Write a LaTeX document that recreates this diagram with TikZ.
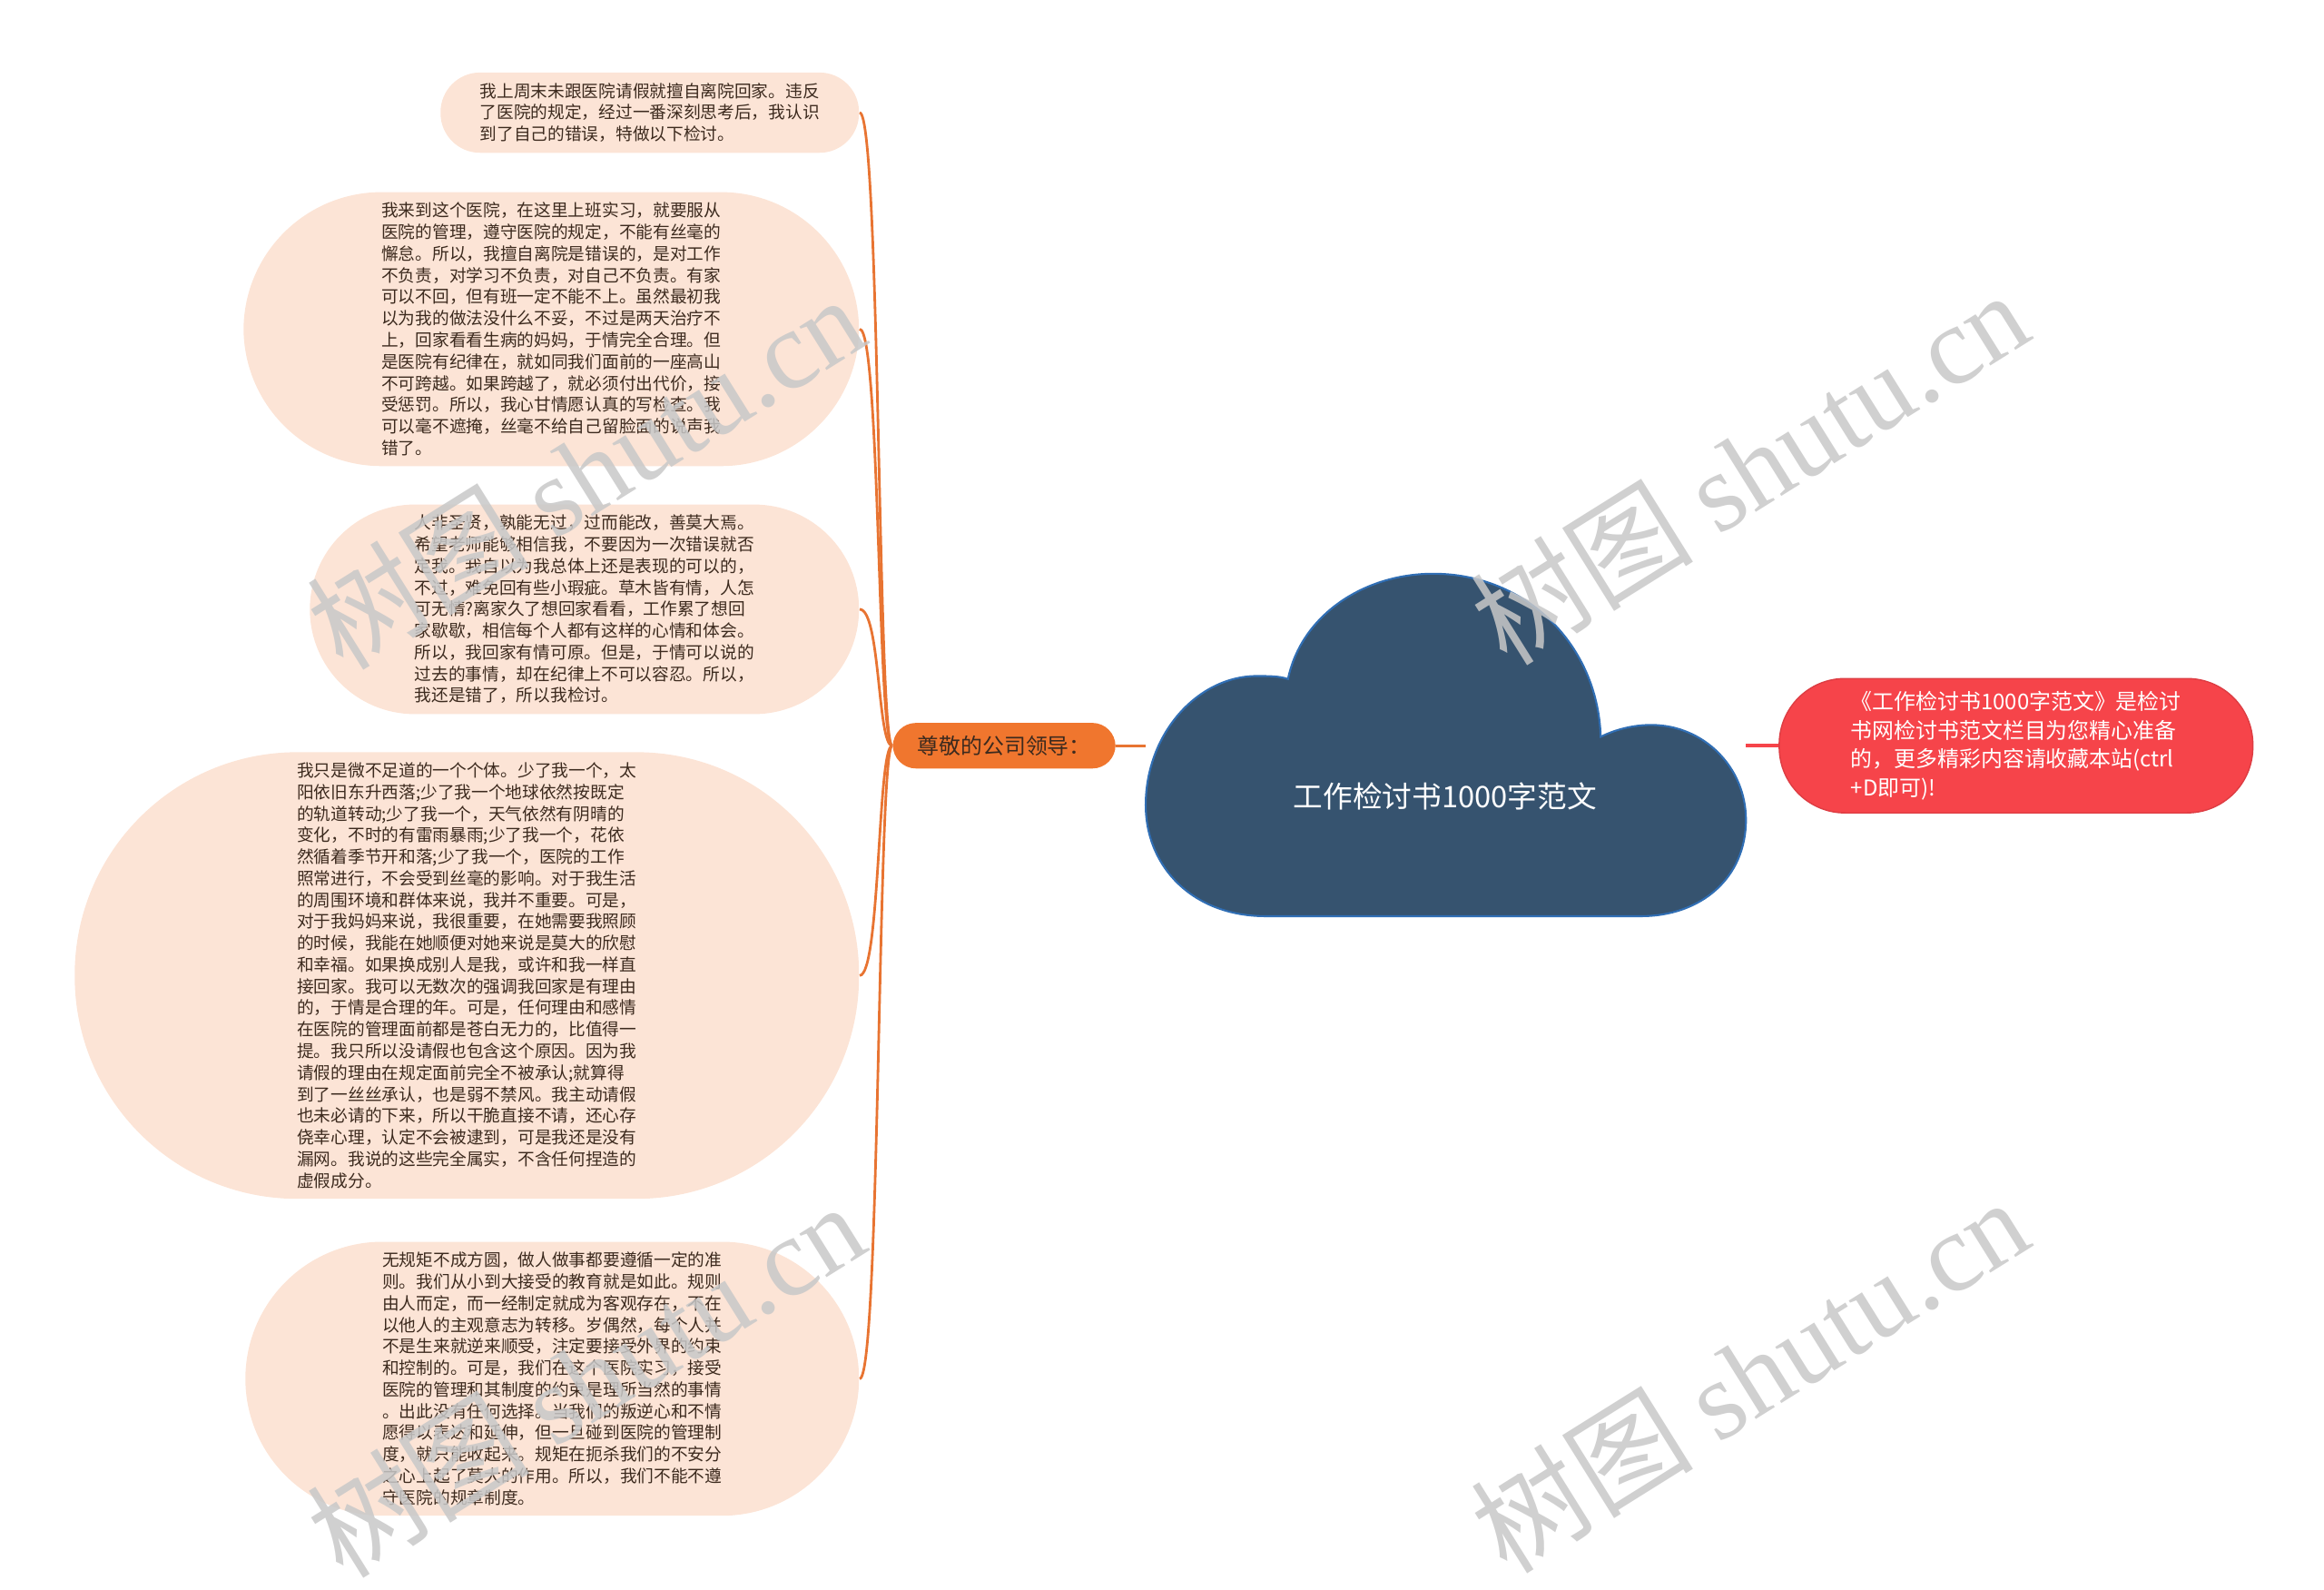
\documentclass[tikz,border=0pt]{standalone}
\usepackage{fontspec}
\setmainfont{Noto Sans CJK SC}
\newfontfamily\wmfont{Liberation Serif}
\usepackage{xcolor}
\usepackage{tikz}
\usetikzlibrary{positioning}

\definecolor{peach}{RGB}{252,228,214}
\definecolor{leadorange}{RGB}{240,118,46}
\definecolor{linkorange}{RGB}{232,116,50}
\definecolor{cloudblue}{RGB}{54,83,111}
\definecolor{cloudedge}{RGB}{48,110,180}
\definecolor{notered}{RGB}{246,68,74}
\definecolor{inkbrown}{RGB}{60,42,30}
\definecolor{wmgray}{RGB}{200,200,200}

\begin{document}
\begin{tikzpicture}[x=0.016327cm,y=-0.016327cm,
leaf/.style={rectangle,rounded corners=#1,inner xsep=#1,fill=peach,text=inkbrown,align=left,anchor=east,inner ysep=0.115cm,font=\fontsize{5.32pt}{6.76pt}\selectfont},
lead/.style={rectangle,rounded corners=0.255cm,fill=leadorange,text=inkbrown,anchor=west,inner xsep=0.27cm,inner ysep=0.14cm,font=\fontsize{6.8pt}{8pt}\selectfont},
note/.style={rectangle,rounded corners=0.725cm,fill=notered,draw=notered!90!black,line width=0.4pt,text=white,align=left,anchor=west,inner xsep=0.79cm,inner ysep=0.144cm,font=\fontsize{6.8pt}{8.94pt}\selectfont},
link/.style={linkorange,line width=0.8pt},
wm/.style={wmgray,opacity=0.85,rotate=32,font=\fontsize{35pt}{35pt}\selectfont}]
\useasboundingbox (0,0) rectangle (1568,1072);

% cloud
\filldraw[fill=cloudblue,draw=cloudedge,line width=0.6pt](854,618) .. controls (805,618) and (773,585) .. (773,543)
.. controls (773,495) and (808,456) .. (848,456)
.. controls (856,456) and (863,456) .. (869,458)
.. controls (878,415) and (920,387) .. (967,387)
.. controls (1030,387) and (1078,435) .. (1080,497)
.. controls (1090,492) and (1102,489) .. (1114,489)
.. controls (1150,489) and (1178,518) .. (1178,553)
.. controls (1178,592) and (1148,618) .. (1107,618)
-- cycle;
\node[text=white,font=\fontsize{9.3pt}{11pt}\selectfont] (root) at (975,537) {工作检讨书1000字范文};
\coordinate (rootW) at (773,503);
\coordinate (rootE) at (1178,503);

\node[lead] (lead) at (602,503) {尊敬的公司领导：};
\node[note] (note) at (1200,503) {《工作检讨书1000字范文》是检讨\\
书网检讨书范文栏目为您精心准备\\
的，更多精彩内容请收藏本站(ctrl\\
+D即可)!};

\node[leaf=0.435cm] (leave) at (580,76) {我上周末未跟医院请假就擅自离院回家。违反\\
了医院的规定，经过一番深刻思考后，我认识\\
到了自己的错误，特做以下检讨。};
\node[leaf=1.52cm] (duty) at (580,222) {我来到这个医院，在这里上班实习，就要服从\\
医院的管理，遵守医院的规定，不能有丝毫的\\
懈怠。所以，我擅自离院是错误的，是对工作\\
不负责，对学习不负责，对自己不负责。有家\\
可以不回，但有班一定不能不上。虽然最初我\\
以为我的做法没什么不妥，不过是两天治疗不\\
上，回家看看生病的妈妈，于情完全合理。但\\
是医院有纪律在，就如同我们面前的一座高山\\
不可跨越。如果跨越了，就必须付出代价，接\\
受惩罚。所以，我心甘情愿认真的写检查。我\\
可以毫不遮掩，丝毫不给自己留脸面的说声我\\
错了。};
\node[leaf=1.155cm] (excuse) at (580,411) {人非圣贤，孰能无过，过而能改，善莫大焉。\\
希望老师能够相信我，不要因为一次错误就否\\
定我。我自以为我总体上还是表现的可以的，\\
不过，难免回有些小瑕疵。草木皆有情，人怎\\
可无情?离家久了想回家看看，工作累了想回\\
家歇歇，相信每个人都有这样的心情和体会。\\
所以，我回家有情可原。但是，于情可以说的\\
过去的事情，却在纪律上不可以容忍。所以，\\
我还是错了，所以我检讨。};
\node[leaf=2.45cm] (minor) at (580,658) {我只是微不足道的一个个体。少了我一个，太\\
阳依旧东升西落;少了我一个地球依然按既定\\
的轨道转动;少了我一个，天气依然有阴晴的\\
变化，不时的有雷雨暴雨;少了我一个，花依\\
然循着季节开和落;少了我一个，医院的工作\\
照常进行，不会受到丝毫的影响。对于我生活\\
的周围环境和群体来说，我并不重要。可是，\\
对于我妈妈来说，我很重要，在她需要我照顾\\
的时候，我能在她顺便对她来说是莫大的欣慰\\
和幸福。如果换成别人是我，或许和我一样直\\
接回家。我可以无数次的强调我回家是有理由\\
的，于情是合理的年。可是，任何理由和感情\\
在医院的管理面前都是苍白无力的，比值得一\\
提。我只所以没请假也包含这个原因。因为我\\
请假的理由在规定面前完全不被承认;就算得\\
到了一丝丝承认，也是弱不禁风。我主动请假\\
也未必请的下来，所以干脆直接不请，还心存\\
侥幸心理，认定不会被逮到，可是我还是没有\\
漏网。我说的这些完全属实，不含任何捏造的\\
虚假成分。};
\node[leaf=1.51cm] (rules) at (580,930) {无规矩不成方圆，做人做事都要遵循一定的准\\
则。我们从小到大接受的教育就是如此。规则\\
由人而定，而一经制定就成为客观存在，不在\\
以他人的主观意志为转移。岁偶然，每个人并\\
不是生来就逆来顺受，注定要接受外界的约束\\
和控制的。可是，我们在这个医院实习，接受\\
医院的管理和其制度的约束是理所当然的事情\\
。出此没有任何选择。当我们的叛逆心和不情\\
愿得以表达和延伸，但一旦碰到医院的管理制\\
度，就只能收起来。规矩在扼杀我们的不安分\\
之心上起了莫大的作用。所以，我们不能不遵\\
守医院的规章制度。};

\foreach \n in {leave,duty,excuse,minor,rules}
\draw[link](\n.east) .. controls +(14,0) and +(-10,0) .. (lead.west);
\draw[link](lead.east)--(rootW);
\draw[notered,line width=1pt](rootE)--(note.west);

\node[wm] (wmA) at (395,318) {树图 {\wmfont shutu.cn}};
\node[wm] (wmB) at (1180,315) {树图 {\wmfont shutu.cn}};
\node[wm] (wmC) at (395,930) {树图 {\wmfont shutu.cn}};
\node[wm] (wmD) at (1180,927) {树图 {\wmfont shutu.cn}};
\end{tikzpicture}
\end{document}
